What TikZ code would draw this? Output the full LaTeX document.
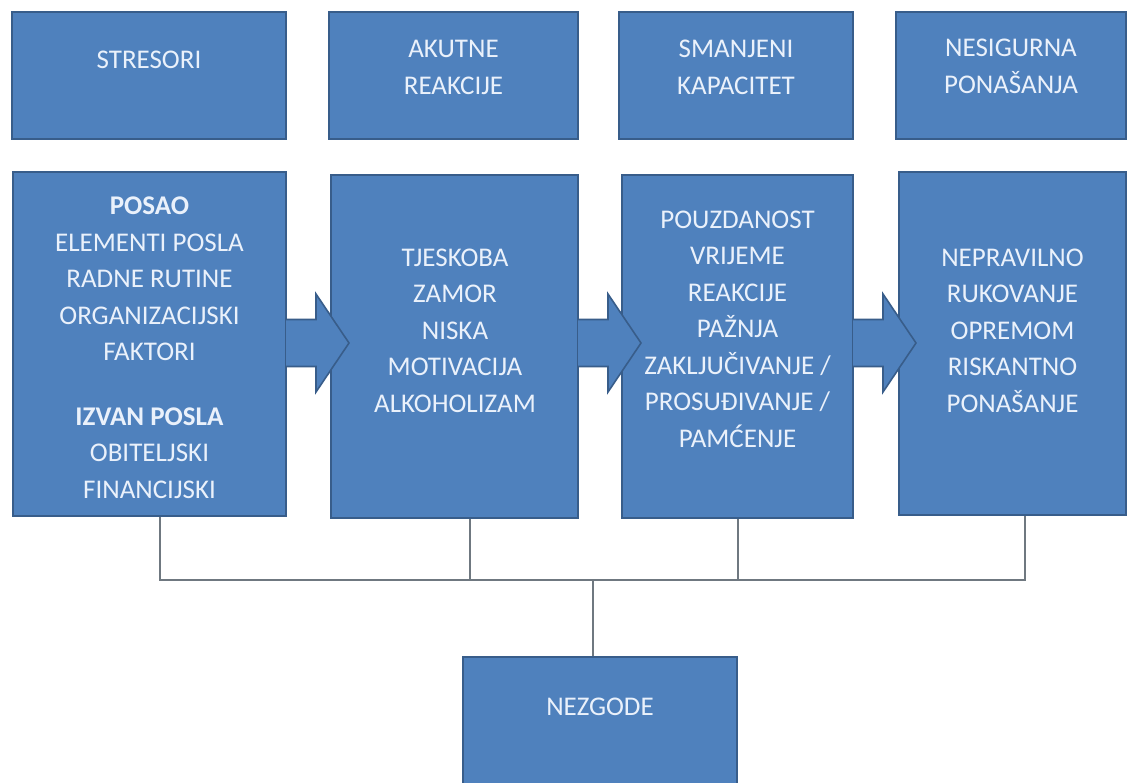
\documentclass[tikz,border=0pt]{standalone}
\usepackage{fontspec}
\setmainfont{Carlito}
\usetikzlibrary{calc}
\definecolor{boxfill}{HTML}{4F81BD}
\definecolor{boxline}{HTML}{385D8A}
\definecolor{txt}{HTML}{EAF1FB}
\definecolor{connc}{HTML}{6F7880}
\begin{document}
\begin{tikzpicture}[x=1pt,y=-1pt,
  bluebox/.style={rectangle, draw=boxline, fill=boxfill, line width=2pt, inner sep=0pt},
  lbl/.style={text=txt, font=\fontsize{27}{36.5}\selectfont, align=center, inner sep=0pt},
  toplbl/.style={lbl, font=\fontsize{27}{37}\selectfont},
  blockarrow/.style={draw=boxline, fill=boxfill, line width=1.6pt, line join=miter},
  conn/.style={draw=connc, line width=1.3pt}]
\useasboundingbox (0,0) rectangle (1127,782);
\fill[white] (0,0) rectangle (1127,782);
\clip (0,0) rectangle (1127,782);

% connector junctions
\coordinate (j1) at (160,580);
\coordinate (j2) at (470,580);
\coordinate (j3) at (738,580);
\coordinate (j4) at (1025,580);
\coordinate (jm) at (593,580);

% top row
\node[bluebox, minimum width=274, minimum height=127] (t1) at (149,75.5) {};
\node[bluebox, minimum width=249, minimum height=127] (t2) at (453.5,75.5) {};
\node[bluebox, minimum width=234, minimum height=127] (t3) at (736,75.5) {};
\node[bluebox, minimum width=230, minimum height=127] (t4) at (1011,75.5) {};

% lower row
\node[bluebox, minimum width=273, minimum height=344] (b1) at (149.5,344) {};
\node[bluebox, minimum width=247, minimum height=343] (b2) at (454.5,346.5) {};
\node[bluebox, minimum width=231, minimum height=343] (b3) at (737.5,346.5) {};
\node[bluebox, minimum width=227, minimum height=343] (b4) at (1012.5,343.5) {};

% bottom box
\node[bluebox, minimum width=274, minimum height=143] (n) at (600,728.5) {};

% connectors
\draw[conn] (j1 |- b1.south) -- (j1) -- (j4) -- (j4 |- b4.south);
\draw[conn] (j2 |- b2.south) -- (j2);
\draw[conn] (j3 |- b3.south) -- (j3);
\draw[conn] (jm) -- (jm |- n.north);

% block arrows
\coordinate (a1) at (b1.east |- 0,343);
\coordinate (a2) at (b2.east |- 0,343);
\coordinate (a3) at (b3.east |- 0,343);
\foreach \a in {a1,a2,a3}{
  \draw[blockarrow] ($(\a)+(-1,-23.5)$) -- ($(\a)+(29,-23.5)$) -- ($(\a)+(29,-49)$)
    -- ($(\a)+(62,0)$) -- ($(\a)+(29,49)$) -- ($(\a)+(29,23.5)$) -- ($(\a)+(-1,23.5)$);
}

% texts
\node[toplbl] (t1t) at (149,60) {STRESORI};
\node[toplbl] (t2t) at (453.5,67) {AKUTNE\\REAKCIJE};
\node[toplbl] (t3t) at (736,67) {SMANJENI\\KAPACITET};
\node[toplbl] (t4t) at (1011,66.5) {NESIGURNA\\PONAŠANJA};

\node[lbl] (b1t) at (149.5,347.5) {\textbf{POSAO}\\ELEMENTI POSLA\\RADNE RUTINE\\ORGANIZACIJSKI\\FAKTORI\\[28pt]\textbf{IZVAN POSLA}\\OBITELJSKI\\FINANCIJSKI};
\node[lbl] (b2t) at (455,330.5) {TJESKOBA\\ZAMOR\\NISKA\\MOTIVACIJA\\ALKOHOLIZAM};
\node[lbl] (b3t) at (737.5,329) {POUZDANOST\\VRIJEME\\REAKCIJE\\PAŽNJA\\ZAKLJUČIVANJE /\\PROSUĐIVANJE /\\PAMĆENJE};
\node[lbl] (b4t) at (1012.5,330.5) {NEPRAVILNO\\RUKOVANJE\\OPREMOM\\RISKANTNO\\PONAŠANJE};

\node[lbl] (nt) at (600,707) {NEZGODE};
\end{tikzpicture}
\end{document}
